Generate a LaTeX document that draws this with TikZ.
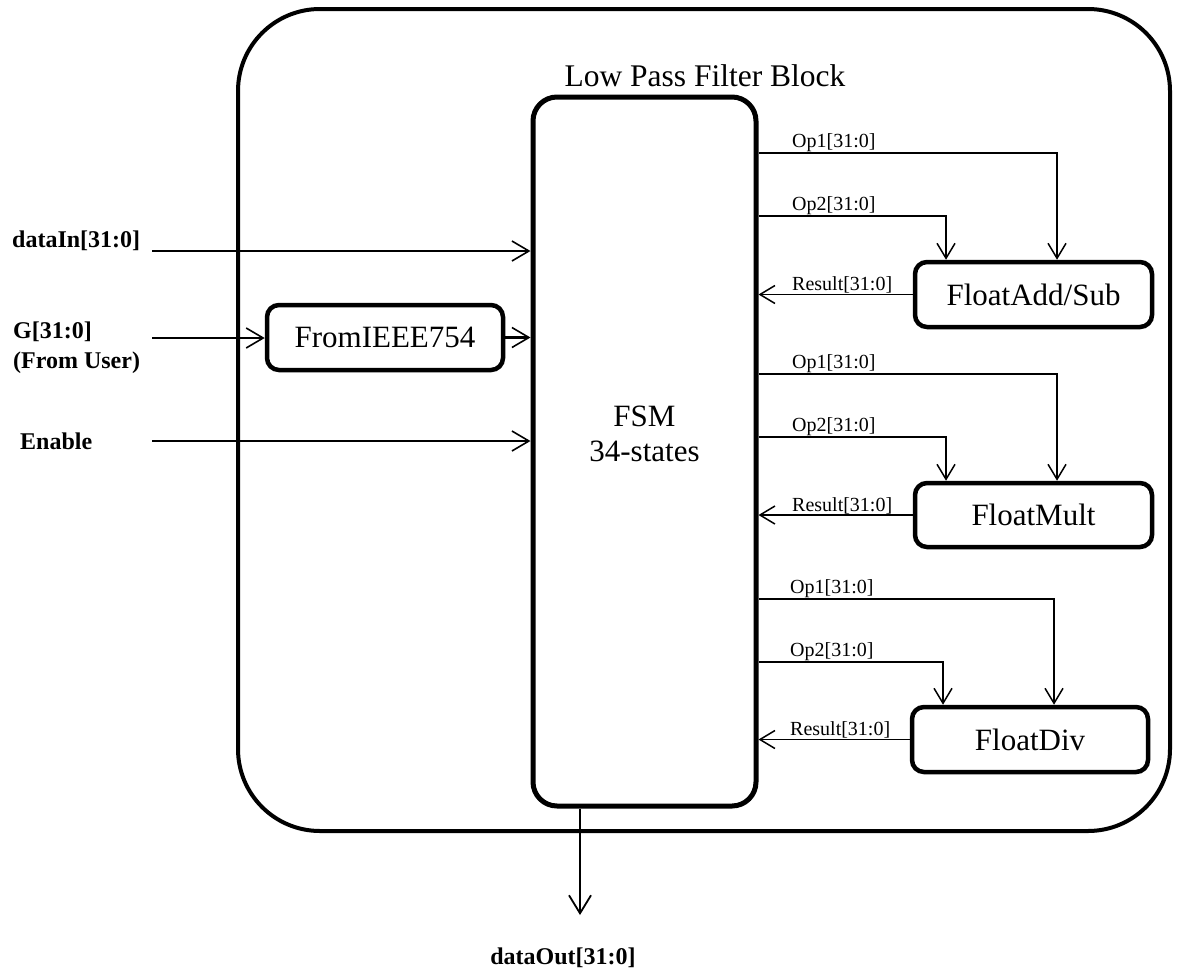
\documentclass[tikz,border=0pt]{standalone}
\usepackage{fontspec}
\setmainfont{Liberation Serif}
\usetikzlibrary{arrows.meta,calc}
\begin{document}
\begin{tikzpicture}[x=1pt,y=-1pt,
  blk/.style={draw, line width=4.5pt, rounded corners=12pt, minimum width=236pt, minimum height=65pt, font=\fontsize{31}{36}\selectfont, inner sep=0pt},
  inl/.style={line width=2.2pt, -{Straight Barb[length=17pt,width=20pt,line width=1.6pt]}},
  opl/.style={line width=1.3pt, -{Straight Barb[length=15pt,width=18pt,line width=1.5pt]}},
  outl/.style={line width=2pt, -{Straight Barb[length=18pt,width=22pt,line width=1.8pt]}},
  sig/.style={font=\fontsize{20}{24}\selectfont, inner sep=0pt, anchor=base west},
  ext/.style={font=\bfseries\fontsize{24}{30}\selectfont, inner sep=0pt, align=left}
]
\useasboundingbox (0,0) rectangle (1180,972);

% outer block
\node[draw, line width=4pt, rounded corners=82pt, minimum width=932pt, minimum height=822pt, inner sep=0pt] (lpf) at (704,420) {};
\node[anchor=base, font=\fontsize{31.5}{36}\selectfont, inner sep=0pt] (title) at (705,86) {Low Pass Filter Block};

% FSM
\node[draw, line width=5pt, rounded corners=24pt, minimum width=223pt, minimum height=709pt, inner sep=0pt] (fsm) at (644.5,451.5) {};
\node[anchor=north, align=center, font=\fontsize{31}{35}\selectfont, inner sep=0pt] (fsmtxt) at (644.5,406) {FSM\\34-states};

% blocks
\node[blk] (from) at (385,337.5) {FromIEEE754};
\node[blk, minimum width=237pt] (add) at (1033.5,294.5) {FloatAdd/Sub};
\node[blk, minimum width=237pt, minimum height=64pt] (mult) at (1033.5,515) {FloatMult};
\node[blk] (div) at (1030,739.5) {FloatDiv};

% inputs
\coordinate (dinS) at (152,251);
\coordinate (gS) at (152,338);
\coordinate (enS) at (152,441);
\draw[inl] (dinS) -- (dinS -| fsm.west);
\draw[inl] (gS) -- (gS -| from.west);
\draw[inl] (from.east) -- (from.east -| fsm.west);
\draw[inl] (enS) -- (enS -| fsm.west);

\node[ext, anchor=base west] (ldin) at (12,247) {dataIn[31:0]};
\node[ext, anchor=north west] (lg) at (13,322) {G[31:0]\\(From User)};
\node[ext, anchor=base west] (len) at (20,449) {Enable};

% output
\coordinate (doE) at (580,915);
\draw[outl] (doE |- fsm.south) -- (doE);
\node[ext, anchor=base] (ldout) at (563,964) {dataOut[31:0]};

% FloatAdd/Sub
\coordinate (a1) at (1057,153);
\coordinate (a2) at (946,216);
\draw[opl] (a1 -| fsm.east) -| (a1 |- add.north);
\draw[opl] (a2 -| fsm.east) -| (a2 |- add.north);
\draw[opl] (add.west) -- (add.west -| fsm.east);
\node[sig] (a1l) at (792,147) {Op1[31:0]};
\node[sig] (a2l) at (792,210) {Op2[31:0]};
\node[sig] (arl) at (792,290) {Result[31:0]};

% FloatMult
\coordinate (m1) at (1057,374);
\coordinate (m2) at (946,437);
\draw[opl] (m1 -| fsm.east) -| (m1 |- mult.north);
\draw[opl] (m2 -| fsm.east) -| (m2 |- mult.north);
\draw[opl] (mult.west) -- (mult.west -| fsm.east);
\node[sig] (m1l) at (792,368) {Op1[31:0]};
\node[sig] (m2l) at (792,431) {Op2[31:0]};
\node[sig] (mrl) at (792,511) {Result[31:0]};

% FloatDiv
\coordinate (d1) at (1054,599);
\coordinate (d2) at (943,662);
\draw[opl] (d1 -| fsm.east) -| (d1 |- div.north);
\draw[opl] (d2 -| fsm.east) -| (d2 |- div.north);
\draw[opl] (div.west) -- (div.west -| fsm.east);
\node[sig] (d1l) at (790,593) {Op1[31:0]};
\node[sig] (d2l) at (790,656) {Op2[31:0]};
\node[sig] (drl) at (790,735) {Result[31:0]};
\end{tikzpicture}
\end{document}
